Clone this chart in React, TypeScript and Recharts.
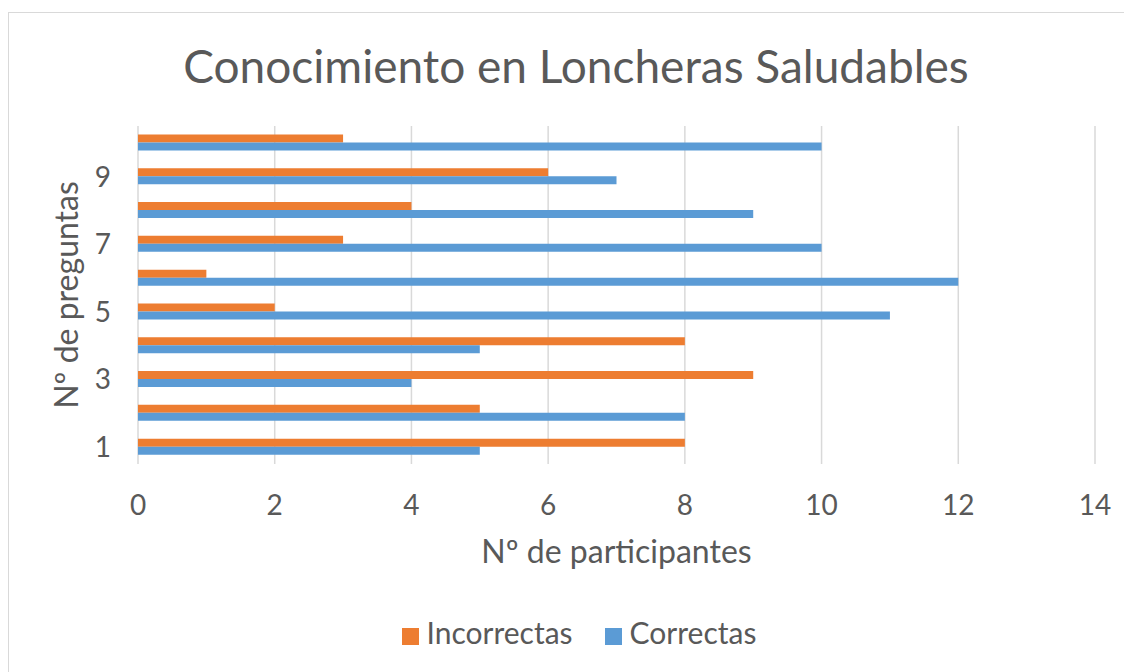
import { BarChart, Bar, XAxis, YAxis, CartesianGrid, Legend, Label } from 'recharts';

const questions = ['1', '2', '3', '4', '5', '6', '7', '8', '9', '10'];
const incorrectas = [8, 5, 9, 8, 2, 1, 3, 4, 6, 3];
const correctas = [5, 8, 4, 5, 11, 12, 10, 9, 7, 10];
const xTicks = [0, 2, 4, 6, 8, 10, 12, 14];
const seriesOrder = ['Incorrectas', 'Correctas'];

const data = questions.map((q, i) => ({
  q,
  incorrectas: incorrectas[i],
  correctas: correctas[i],
}));

const textColor = '#595959';
const font = 'Lato, "Open Sans", sans-serif';

const App = () => {
  return (
    <div
      style={{
        position: 'relative',
        width: 1140,
        height: 680,
        marginTop: 4,
        border: '1px solid #D9D9D9',
        boxSizing: 'border-box',
        fontFamily: font,
        background: '#fff',
      }}
    >
      <div
        style={{
          position: 'absolute',
          left: 0,
          width: 1134,
          top: 28,
          textAlign: 'center',
          fontSize: 46,
          color: textColor,
          lineHeight: '50px',
        }}
      >
        Conocimiento en Loncheras Saludables
      </div>
      <BarChart
        width={1123}
        height={660}
        layout="vertical"
        data={data}
        margin={{ top: 113, right: 37, left: 0, bottom: 23 }}
        barCategoryGap="25%"
        barGap={0}
      >
        <CartesianGrid horizontal={false} stroke="#D9D9D9" strokeWidth={1.5} />
        <XAxis
          type="number"
          domain={[0, 14]}
          ticks={xTicks}
          axisLine={false}
          tickLine={false}
          tickMargin={25}
          height={150}
          tick={{ fill: textColor, fontSize: 28, fontFamily: font }}
        >
          <Label
            value="Nº de participantes"
            position="insideTop"
            offset={76}
            style={{ fill: textColor, fontSize: 32, fontFamily: font }}
          />
        </XAxis>
        <YAxis
          type="category"
          dataKey="q"
          reversed
          interval={1}
          width={129}
          axisLine={false}
          tickLine={false}
          tickMargin={21}
          tick={{ fill: textColor, fontSize: 28, fontFamily: font }}
        >
          <Label
            value="Nº de preguntas"
            angle={-90}
            position="insideLeft"
            offset={58}
            style={{ fill: textColor, fontSize: 32, fontFamily: font, textAnchor: 'middle' }}
          />
        </YAxis>
        <Legend
          verticalAlign="bottom"
          iconType="square"
          iconSize={17}
          itemSorter={(item: any) => seriesOrder.indexOf(item.value)}
          wrapperStyle={{ fontSize: 30, fontFamily: font, paddingLeft: 43 }}
          formatter={(value) => <span style={{ color: textColor, marginRight: 22, marginLeft: 4 }}>{value}</span>}
        />
        <Bar dataKey="incorrectas" name="Incorrectas" fill="#ED7D31" isAnimationActive={false} />
        <Bar dataKey="correctas" name="Correctas" fill="#5B9BD5" isAnimationActive={false} />
      </BarChart>
    </div>
  );
};

export default App;
